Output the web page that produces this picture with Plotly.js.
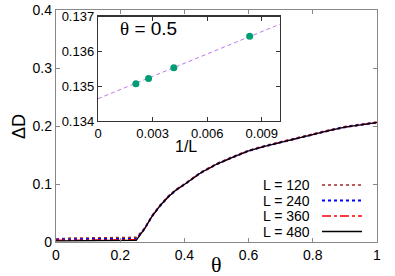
<!DOCTYPE html>
<html>
<head>
<meta charset="utf-8">
<script src="https://cdn.plot.ly/plotly-3.0.1.min.js"></script>
<style>html,body{margin:0;padding:0;background:#fff;}#plot{width:395px;height:276px;}</style>
</head>
<body>
<div id="plot"></div>
<script>
// ---- data ----
var theta = [0, 0.05, 0.1, 0.15, 0.2, 0.25, 0.275, 0.3, 0.325, 0.35, 0.375, 0.4, 0.45, 0.5, 0.55, 0.6, 0.65, 0.7, 0.75, 0.8, 0.85, 0.9, 0.95, 1.0];
var dL120 = [0.005, 0.007, 0.007, 0.007, 0.007, 0.008, 0.023, 0.046, 0.064, 0.079, 0.091, 0.100, 0.120, 0.135, 0.147, 0.158, 0.166, 0.173, 0.179, 0.186, 0.193, 0.199, 0.203, 0.207];
var dL240 = [0.004, 0.005, 0.005, 0.005, 0.005, 0.005, 0.022, 0.045, 0.063, 0.078, 0.090, 0.099, 0.119, 0.134, 0.146, 0.157, 0.165, 0.172, 0.178, 0.185, 0.192, 0.198, 0.202, 0.206];
var dL360 = [0.003, 0.003, 0.003, 0.003, 0.003, 0.004, 0.022, 0.045, 0.063, 0.078, 0.090, 0.099, 0.119, 0.134, 0.146, 0.157, 0.165, 0.172, 0.178, 0.185, 0.192, 0.198, 0.202, 0.206];
var dL480 = [0.002, 0.002, 0.002, 0.002, 0.002, 0.003, 0.022, 0.045, 0.063, 0.078, 0.090, 0.099, 0.119, 0.134, 0.146, 0.157, 0.165, 0.172, 0.178, 0.185, 0.192, 0.198, 0.202, 0.206];
var seriesNames = ["L = 120", "L = 240", "L = 360", "L = 480"];

var invL = [1/120, 1/240, 1/360, 1/480];
var dAtHalf = [0.13643, 0.13553, 0.13522, 0.13507];
var fitX = [0, 0.01];
var fitY = [0.13464, 0.13678];

var mainXTicks = [0, 0.2, 0.4, 0.6, 0.8, 1];
var mainYTicks = [0, 0.1, 0.2, 0.3, 0.4];
var insetXTicks = [0, 0.003, 0.006, 0.009];
var insetXLabels = ["0", "0.003", "0.006", "0.009"];
var insetYTicks = [0.134, 0.135, 0.136, 0.137];

// ---- layout helpers (pixel -> paper) ----
var W = 395, H = 276, L0 = 56, R0 = 377, T0 = 10, B0 = 242;
function px(x){ return (x - L0) / (R0 - L0); }
function py(y){ return (B0 - y) / (B0 - T0); }

var styles = [
  {color: "#a0282a", dash: "dot", width: 1.6},
  {color: "#0000ff", dash: "dot", width: 2},
  {color: "#ff0000", dash: "dashdot", width: 1.3},
  {color: "#000000", dash: "solid", width: 1.3}
];
var series = [dL120, dL240, dL360, dL480];

var traces = series.map(function(s, i){
  return {x: theta, y: s, type: "scatter", mode: "lines", name: seriesNames[i],
          line: {color: styles[i].color, dash: styles[i].dash, width: styles[i].width},
          xaxis: "x", yaxis: "y", showlegend: false, hoverinfo: "skip"};
});
traces.push({x: fitX, y: fitY, type: "scatter", mode: "lines", xaxis: "x2", yaxis: "y2",
  line: {color: "#bb77ee", dash: "4px,3px", width: 1}, showlegend: false, hoverinfo: "skip"});
traces.push({x: invL, y: dAtHalf, type: "scatter", mode: "markers", xaxis: "x2", yaxis: "y2",
  marker: {color: "#009e73", size: 7}, showlegend: false, hoverinfo: "skip"});

var font = "Liberation Sans, Arial, sans-serif";
var serif = "Liberation Serif, Times New Roman, serif";

var shapes = [];
var annotations = [];
var legY = [185, 200.5, 216, 231.5];
series.forEach(function(s, i){
  annotations.push({xref: "paper", yref: "paper", x: px(312), y: py(legY[i]), xanchor: "right", yanchor: "middle",
    text: seriesNames[i], showarrow: false, font: {family: font, size: 14, color: "#000"}});
  shapes.push({type: "line", xref: "paper", yref: "paper", x0: px(322), x1: px(362), y0: py(legY[i]), y1: py(legY[i]),
    line: {color: styles[i].color, dash: styles[i].dash, width: styles[i].width}});
});
annotations.push({xref: "paper", yref: "paper", x: px(19), y: py(127), xanchor: "center", yanchor: "middle",
  text: "ΔD", textangle: -90, showarrow: false, font: {family: font, size: 18, color: "#000"}});
annotations.push({xref: "paper", yref: "paper", x: px(216), y: py(264), xanchor: "center", yanchor: "middle",
  text: "θ", showarrow: false, font: {family: serif, size: 22, color: "#000"}});
annotations.push({xref: "paper", yref: "paper", x: px(186), y: py(146), xanchor: "center", yanchor: "middle",
  text: "1/L", showarrow: false, font: {family: font, size: 16, color: "#000"}});
annotations.push({xref: "paper", yref: "paper", x: px(118), y: py(29), xanchor: "left", yanchor: "middle",
  text: "<span style=\"font-family:Liberation Serif\">θ</span> = 0.5", showarrow: false, font: {family: font, size: 19, color: "#000"}});

var layout = {
  width: W, height: H,
  margin: {l: L0, r: W - R0, t: T0, b: H - B0, pad: 0},
  paper_bgcolor: "#fff", plot_bgcolor: "#fff",
  font: {family: font, size: 14, color: "#000"},
  xaxis: {range: [0, 1], domain: [0, 1], tickvals: mainXTicks, ticks: "inside", ticklen: 4, tickcolor: "#888",
          showline: true, linecolor: "#888", linewidth: 1.2, mirror: "allticks", showgrid: false, zeroline: false,
          tickfont: {size: 14}, fixedrange: true, anchor: "y"},
  yaxis: {range: [0, 0.4], domain: [0, 1], tickvals: mainYTicks, ticks: "inside", ticklen: 4, tickcolor: "#888",
          showline: true, linecolor: "#888", linewidth: 1.2, mirror: "allticks", showgrid: false, zeroline: false,
          tickfont: {size: 14}, fixedrange: true, anchor: "x"},
  xaxis2: {range: [0, 0.01], domain: [px(98), px(280)], tickvals: insetXTicks, ticktext: insetXLabels,
           ticks: "inside", ticklen: 4, tickcolor: "#333", showline: true, linecolor: "#333", linewidth: 1.2,
           mirror: "allticks", showgrid: false, zeroline: false, tickfont: {size: 13}, anchor: "y2", fixedrange: true},
  yaxis2: {range: [0.134, 0.137], domain: [py(121), py(16.5)], tickvals: insetYTicks, tickformat: ".3f",
           ticks: "inside", ticklen: 4, tickcolor: "#333", showline: true, linecolor: "#333", linewidth: 1.2,
           mirror: "allticks", showgrid: false, zeroline: false, tickfont: {size: 13}, anchor: "x2", fixedrange: true},
  shapes: shapes,
  annotations: annotations,
  showlegend: false
};

Plotly.newPlot("plot", traces, layout, {staticPlot: true, displayModeBar: false});
</script>
</body>
</html>
